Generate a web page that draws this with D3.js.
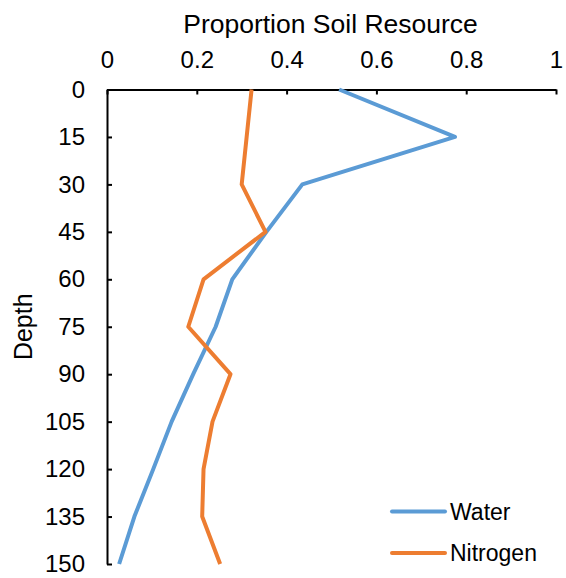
<!DOCTYPE html>
<html>
<head>
<meta charset="utf-8">
<script src="https://cdn.jsdelivr.net/npm/d3@7"></script>
<style>
  body { margin: 0; background: #fff; }
  text { font-family: "Liberation Sans", Arial, sans-serif; fill: #000; }
</style>
</head>
<body>
<div id="chart"></div>
<script>
const depths = [0, 15, 30, 45, 60, 75, 90, 105, 120, 135, 150];
const water = [0.517, 0.775, 0.435, 0.355, 0.279, 0.242, 0.192, 0.144, 0.103, 0.061, 0.027];
const nitrogen = [0.322, 0.311, 0.300, 0.353, 0.215, 0.181, 0.275, 0.235, 0.215, 0.212, 0.252];
const xTicks = [0, 0.2, 0.4, 0.6, 0.8, 1];
const yTicks = [0, 15, 30, 45, 60, 75, 90, 105, 120, 135, 150];

const W = 566, H = 578;
const margin = {top: 89.5, right: 10, bottom: 14, left: 107};
const width = W - margin.left - margin.right,
      height = H - margin.top - margin.bottom;

const svg = d3.select("#chart")
    .append("svg")
    .attr("width", W)
    .attr("height", H)
    .append("g")
    .attr("transform", `translate(${margin.left},${margin.top})`);

const x = d3.scaleLinear().domain([0, 1]).range([0, 449]);
const y = d3.scaleLinear().domain([0, 150]).range([0, height]);

// top axis, ticks pointing inside
const xAxis = svg.append("g")
    .call(d3.axisTop(x).tickValues(xTicks).tickSize(-5).tickSizeOuter(0)
        .tickFormat(d => d3.format("")(d)));
xAxis.select(".domain").attr("stroke-width", 2);
xAxis.selectAll(".tick line").attr("stroke-width", 2);
xAxis.selectAll(".tick text")
    .attr("y", -22)
    .style("font-size", "24px");

const yAxis = svg.append("g")
    .call(d3.axisLeft(y).tickValues(yTicks).tickSize(-5).tickSizeOuter(0));
yAxis.select(".domain").attr("stroke-width", 2);
yAxis.selectAll(".tick line").attr("stroke-width", 2);
yAxis.selectAll(".tick text")
    .attr("x", -22)
    .style("font-size", "24px");
d3.selectAll(".domain").attr("stroke", "#000");

// axis titles
svg.append("text")
    .attr("x", x(0.5) - 1)
    .attr("y", -57)
    .attr("text-anchor", "middle")
    .style("font-size", "26.5px")
    .text("Proportion Soil Resource");

svg.append("text")
    .attr("transform", `translate(${-75},${y(75)}) rotate(-90)`)
    .attr("text-anchor", "middle")
    .style("font-size", "25px")
    .text("Depth");

const series = [
    {name: "Water", values: water, color: "#5B9BD5"},
    {name: "Nitrogen", values: nitrogen, color: "#ED7D31"}
];

const line = d3.line()
    .x(d => x(d[1]))
    .y(d => y(d[0]));

svg.selectAll(".series")
    .data(series)
    .join("path")
    .attr("class", "series")
    .attr("fill", "none")
    .attr("stroke", d => d.color)
    .attr("stroke-width", 4)
    .attr("stroke-linejoin", "round")
    .attr("d", d => line(depths.map((dep, i) => [dep, d.values[i]])));

// legend
const legend = svg.selectAll(".legend")
    .data(series)
    .join("g")
    .attr("class", "legend")
    .attr("transform", (d, i) => `translate(${392 - margin.left},${511.5 - margin.top + i * 41.5})`);
legend.append("line")
    .attr("x1", 0).attr("x2", 53)
    .attr("stroke", d => d.color)
    .attr("stroke-width", 4)
    .attr("stroke-linecap", "round");
legend.append("text")
    .attr("x", 58)
    .attr("dy", "0.35em")
    .style("font-size", "23px")
    .text(d => d.name);
</script>
</body>
</html>
